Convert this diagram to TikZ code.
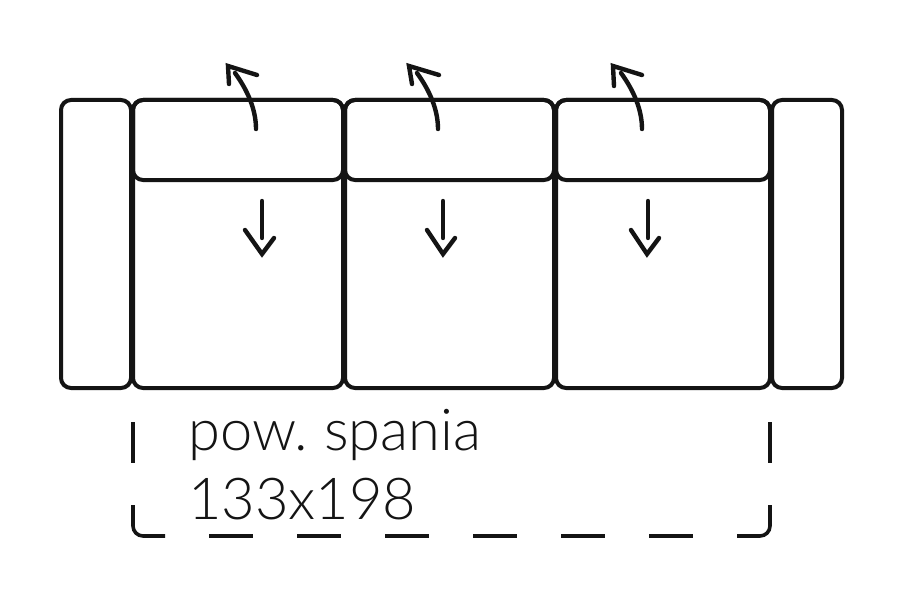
\documentclass[tikz,border=0pt]{standalone}
\usepackage{fontspec}
\newfontfamily\lightfont{Lato Light}
\begin{document}
\begin{tikzpicture}[x=1bp,y=-1bp,
  part/.style={draw=ink,line width=4bp,rounded corners=10bp,inner sep=0pt,outer sep=0pt,anchor=north west},
  flip/.style={draw=ink,line width=4.4bp,line cap=round,line join=miter},
  dim/.style={draw=ink,line width=3.6bp},
  label/.style={inner sep=0pt,anchor=base west,text=ink,font=\lightfont\fontsize{58}{58}\selectfont\frenchspacing}]
\definecolor{ink}{HTML}{141414}
\useasboundingbox (0,0) rectangle (900,600);
\fill[white] (0,0) rectangle (900,600);
\node[part,minimum width=70bp,minimum height=288bp] (armL) at (61,100) {};
\node[part,minimum width=70bp,minimum height=288bp] (armR) at (772,100) {};
\node[part,minimum width=210bp,minimum height=288bp] (seatA) at (133,100) {};
\node[part,minimum width=209bp,minimum height=288bp] (seatB) at (345,100) {};
\node[part,minimum width=214bp,minimum height=288bp] (seatC) at (556,100) {};
\node[part,minimum width=210bp,minimum height=80bp] (backA) at (133,100) {};
\node[part,minimum width=209bp,minimum height=80bp] (backB) at (345,100) {};
\node[part,minimum width=214bp,minimum height=80bp] (backC) at (556,100) {};
% lift arrows: shaft start x, shaft end x, tip x, left wing x, right wing x
\foreach \n/\s/\e/\t/\l/\r/\ly in {a/256/235/228/229/257/84,b/438/417/409/412/439/84,c/642/621/613/614/642/86}{
  \coordinate (up\n s) at (\s,129);
  \coordinate (up\n e) at (\e,73);
  \coordinate (up\n t) at (\t,66);
  \coordinate (up\n l) at (\l,\ly);
  \coordinate (up\n r) at (\r,75);
  \draw[flip] (up\n s) .. controls (\s,110) and (\s-8,91) .. (up\n e);
  \draw[flip] (up\n l) -- (up\n t) -- (up\n r);
}
% pull arrows: shaft x, tip x, left wing x, right wing x
\foreach \n/\x/\t/\l/\r in {a/262/262/245/274,b/443/443/427/455,c/648/647/631/659}{
  \coordinate (dn\n s) at (\x,201);
  \coordinate (dn\n e) at (\x,238);
  \coordinate (dn\n t) at (\t,254);
  \coordinate (dn\n l) at (\l,230);
  \coordinate (dn\n r) at (\r,238);
  \draw[flip] (dn\n s) -- (dn\n e);
  \draw[flip] (dn\n l) -- (dn\n t) -- (dn\n r);
}
% dimension outline
\coordinate (la) at (133,422); \coordinate (lb) at (133,463);
\coordinate (ra) at (770,422); \coordinate (rb) at (770,463);
\draw[dim] (la) -- (lb);
\draw[dim] (ra) -- (rb);
\draw[dim,rounded corners=10bp] (133,505) -- (133,536) -- (165,536);
\draw[dim,rounded corners=10bp] (770,505) -- (770,536) -- (737,536);
\foreach \x in {209,297,385,473,561,649}{
  \draw[dim] (\x,536) -- (\x+44,536);
}
\node[label] (area) at (188,450) {pow. spania};
\node[label] (size) at (188,519) {133x198};
\end{tikzpicture}
\end{document}
